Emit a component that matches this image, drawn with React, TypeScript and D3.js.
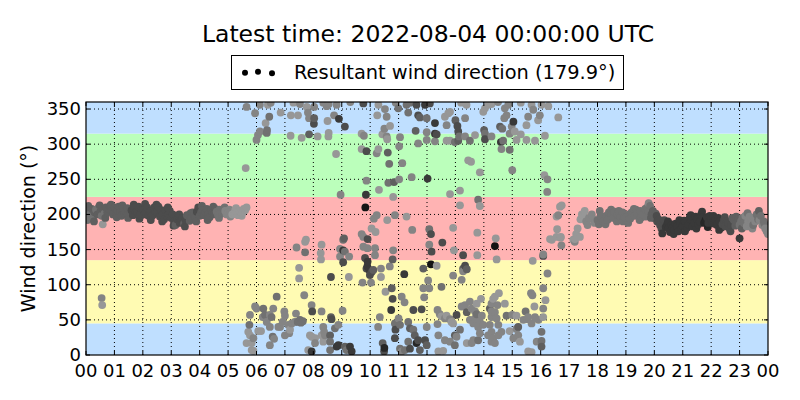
import React from 'react';
import * as d3 from 'd3';

// [hour, direction (deg), shade 0 dark .. 9 light]
const morningBand: [number, number, number][] = [
  [0.0, 197, 4], [0.05, 192, 5], [0.1, 205, 4], [0.15, 200, 5], [0.2, 208, 4], [0.25, 196, 5], [0.3, 203, 4], [0.35, 207, 5],
  [0.4, 200, 4], [0.45, 210, 5], [0.5, 204, 4], [0.55, 198, 5], [0.6, 207, 4], [0.65, 201, 5], [0.7, 210, 4], [0.75, 203, 4],
  [0.8, 208, 4], [0.85, 212, 4], [0.9, 205, 4], [0.95, 200, 4], [1.0, 210, 4], [1.05, 200, 4], [1.1, 206, 4], [1.15, 211, 4],
  [1.2, 203, 4], [1.25, 198, 4], [1.3, 208, 4], [1.35, 201, 4], [1.4, 205, 4], [1.45, 209, 4], [1.5, 200, 4], [1.55, 207, 4],
  [1.6, 206, 3], [1.65, 199, 3], [1.7, 210, 3], [1.75, 203, 3], [1.8, 204, 3], [1.85, 211, 3], [1.9, 200, 3], [1.95, 207, 3],
  [2.0, 207, 3], [2.05, 200, 3], [2.1, 203, 3], [2.15, 210, 3], [2.2, 198, 3], [2.25, 204, 3], [2.3, 205, 3], [2.35, 199, 3],
  [2.4, 210, 3], [2.45, 204, 3], [2.5, 203, 3], [2.55, 211, 3], [2.6, 197, 3], [2.65, 206, 3], [2.7, 200, 3], [2.75, 193, 3],
  [2.8, 206, 3], [2.85, 198, 3], [2.9, 200, 3], [2.95, 205, 3], [3.0, 195, 3], [3.05, 200, 3], [3.1, 190, 3], [3.15, 185, 4],
  [3.2, 193, 3], [3.25, 198, 3], [3.3, 188, 3], [3.35, 194, 3], [3.4, 195, 3], [3.45, 187, 4], [3.5, 192, 3], [3.55, 199, 4],
  [3.6, 198, 4], [3.65, 191, 4], [3.7, 195, 4], [3.75, 203, 4], [3.8, 200, 4], [3.85, 196, 4], [3.9, 204, 3], [3.95, 210, 3],
  [4.0, 198, 4], [4.05, 203, 4], [4.1, 206, 4], [4.15, 199, 4], [4.2, 203, 4], [4.25, 208, 4], [4.3, 200, 4], [4.35, 196, 4],
  [4.4, 206, 4], [4.45, 202, 4], [4.5, 200, 4], [4.55, 208, 4], [4.6, 204, 5], [4.65, 199, 5], [4.7, 207, 5], [4.75, 201, 5],
  [4.8, 202, 5], [4.85, 208, 5], [4.9, 205, 6], [4.95, 200, 6], [5.0, 202, 6], [5.05, 207, 6], [5.1, 204, 6], [5.15, 200, 7],
  [5.2, 201, 7], [5.25, 206, 7], [5.3, 203, 7], [5.35, 199, 7], [5.4, 205, 7], [5.45, 204, 7], [5.5, 202, 7], [5.55, 208, 7],
  [5.6, 206, 7], [5.65, 210, 7],
  [0.08, 212, 4], [0.28, 190, 4], [0.48, 213, 4], [0.68, 195, 4], [0.88, 214, 4], [1.08, 196, 4], [1.28, 213, 4], [1.48, 195, 4],
  [1.68, 214, 3], [1.88, 194, 3], [2.08, 215, 3], [2.28, 192, 3], [2.48, 214, 3], [2.68, 190, 3], [2.88, 210, 3], [3.08, 184, 3],
  [3.28, 200, 3], [3.48, 183, 3], [3.68, 202, 4], [3.88, 190, 4], [4.08, 212, 4], [4.28, 192, 4], [4.48, 211, 4], [4.68, 195, 5],
  [4.88, 210, 5], [5.08, 197, 6], [5.28, 209, 7], [5.48, 198, 7],
];

const eveningBand: [number, number, number][] = [
  [17.2, 165, 7], [17.25, 172, 7], [17.3, 180, 7], [17.4, 193, 7], [17.45, 200, 7], [17.5, 198, 7], [17.55, 205, 7], [17.6, 190, 6],
  [17.65, 185, 6], [17.7, 195, 6], [17.8, 200, 6], [17.85, 193, 6], [17.9, 188, 6], [18.0, 192, 5], [18.05, 186, 5], [18.1, 197, 5],
  [18.2, 190, 5], [18.3, 198, 5], [18.35, 192, 5], [18.4, 203, 5], [18.5, 200, 5], [18.55, 195, 5], [18.6, 204, 5], [18.7, 200, 5],
  [18.75, 205, 5], [18.8, 197, 5], [18.9, 190, 5], [18.95, 196, 5], [19.0, 195, 5], [19.1, 200, 5], [19.15, 194, 5], [19.2, 203, 5],
  [19.3, 198, 5], [19.35, 207, 5], [19.4, 202, 5], [19.5, 205, 5], [19.55, 196, 5], [19.6, 200, 5], [19.7, 197, 5], [19.75, 210, 5],
  [19.8, 205, 5], [19.8, 216, 6], [19.85, 212, 5], [19.9, 200, 4], [19.95, 205, 4], [20.0, 195, 4], [20.05, 201, 4], [20.1, 190, 3],
  [20.15, 193, 3], [20.2, 185, 3], [20.25, 180, 3], [20.3, 188, 3], [20.35, 192, 3], [20.4, 182, 2], [20.45, 186, 2], [20.5, 180, 2],
  [20.55, 175, 2], [20.6, 186, 2], [20.65, 181, 2], [20.7, 178, 2], [20.75, 187, 2], [20.8, 183, 2], [20.85, 176, 2], [20.9, 188, 2],
  [20.95, 180, 2], [21.0, 184, 2], [21.05, 191, 2], [21.1, 190, 2], [21.15, 181, 2], [21.2, 186, 2], [21.25, 196, 2], [21.3, 192, 2],
  [21.35, 183, 2], [21.4, 188, 2], [21.45, 197, 2], [21.5, 193, 2], [21.55, 186, 2], [21.6, 190, 2], [21.65, 200, 2], [21.7, 196, 2],
  [21.75, 188, 1], [21.8, 192, 1], [21.85, 196, 2], [21.9, 188, 2], [21.95, 198, 2], [22.0, 193, 2], [22.05, 188, 2], [22.1, 187, 2],
  [22.15, 193, 2], [22.2, 185, 2], [22.25, 195, 2], [22.3, 190, 2], [22.35, 181, 2], [22.4, 186, 3], [22.45, 192, 3], [22.5, 183, 3],
  [22.55, 190, 3], [22.6, 188, 3], [22.65, 180, 3], [22.7, 185, 3], [22.75, 195, 4], [22.8, 192, 4], [22.85, 184, 4], [22.9, 188, 4],
  [22.95, 193, 4], [23.0, 185, 5], [23.0, 166, 2], [23.05, 190, 5], [23.1, 195, 5], [23.15, 188, 5], [23.2, 198, 6], [23.25, 183, 6],
  [23.3, 190, 6], [23.35, 197, 6], [23.4, 186, 6], [23.45, 180, 6], [23.5, 195, 6], [23.55, 190, 6], [23.6, 200, 5], [23.65, 193, 5],
  [23.7, 192, 6], [23.75, 198, 5], [23.8, 185, 6], [23.85, 190, 5], [23.9, 180, 6], [23.95, 176, 6], [24.0, 172, 6],
  [18.08, 205, 5], [18.28, 186, 5], [18.48, 207, 5], [18.68, 190, 5], [18.88, 203, 5], [19.08, 188, 5], [19.28, 208, 5], [19.48, 192, 5],
  [19.68, 208, 5], [19.88, 195, 4], [20.08, 198, 3], [20.28, 173, 2], [20.48, 190, 2], [20.68, 172, 2], [20.88, 192, 2], [21.08, 176, 2],
  [21.28, 199, 2], [21.48, 180, 2], [21.68, 204, 2], [21.88, 182, 1], [22.08, 198, 2], [22.28, 178, 2], [22.48, 196, 3], [22.68, 176, 3],
  [22.88, 197, 4], [23.08, 180, 4], [23.28, 202, 5], [23.48, 185, 5], [23.68, 205, 4], [23.88, 186, 5],
];

const scatterPoints: [number, number, number][] = [
  [0.59, 186, 7], [0.55, 81, 6], [0.57, 71, 7], [5.62, 266, 7],
  [5.65, 353, 6], [5.95, 344, 6], [6.12, 356, 6], [6.4, 356, 7], [6.45, 339, 5], [6.32, 330, 7], [6.12, 318, 6], [6.05, 313, 6],
  [6.0, 306, 6], [6.36, 316, 5], [6.37, 320, 5], [6.85, 345, 7], [7.21, 341, 7], [7.46, 341, 7], [7.53, 357, 6], [7.77, 353, 7],
  [7.81, 345, 6], [7.85, 337, 6], [7.2, 312, 7], [7.59, 309, 7], [7.85, 314, 4], [8.15, 311, 7], [8.03, 337, 4], [8.02, 329, 3],
  [8.03, 353, 6], [8.47, 354, 6], [8.54, 357, 6], [8.82, 356, 6], [8.5, 333, 7], [8.54, 316, 7], [8.53, 311, 7], [8.73, 341, 6],
  [8.9, 336, 2], [9.11, 325, 3], [8.8, 286, 7], [9.76, 358, 3], [9.7, 315, 7], [9.78, 312, 6], [9.7, 293, 7], [9.87, 290, 3],
  [9.87, 248, 6], [8.96, 228, 6], [9.85, 228, 2], [9.83, 210, 0], [10.31, 235, 7], [10.81, 225, 7], [10.23, 199, 6], [10.13, 194, 6],
  [10.6, 192, 7], [10.87, 199, 6], [10.29, 356, 7], [10.52, 350, 6], [10.58, 339, 6], [10.25, 341, 7], [10.5, 322, 6], [10.7, 326, 7],
  [10.43, 314, 7], [10.58, 311, 6], [10.6, 307, 7], [10.23, 287, 6], [10.29, 293, 7], [10.62, 288, 4], [10.67, 272, 5], [10.64, 245, 5],
  [10.84, 246, 4],
  [10.99, 351, 5], [11.28, 356, 5], [11.34, 345, 5], [11.63, 356, 3], [11.69, 341, 3], [11.75, 338, 4], [11.93, 356, 2], [11.99, 337, 5],
  [12.28, 330, 2], [11.6, 319, 4], [11.99, 317, 6], [12.28, 315, 2], [12.34, 314, 3], [11.05, 310, 6], [11.02, 297, 6], [11.69, 301, 6],
  [11.99, 306, 6], [12.28, 304, 6], [12.63, 339, 7], [12.75, 344, 7], [12.81, 346, 7], [12.69, 327, 6], [13.0, 334, 4], [13.07, 326, 3],
  [13.34, 337, 6], [12.69, 305, 7], [12.81, 305, 7], [12.98, 303, 5], [13.1, 305, 4], [13.1, 318, 3], [13.13, 311, 5], [13.34, 311, 6],
  [13.51, 305, 5], [13.39, 356, 7], [13.98, 346, 7], [14.04, 351, 7], [14.15, 356, 7], [14.27, 357, 7], [14.01, 320, 4], [14.04, 315, 5],
  [14.04, 307, 3], [14.27, 311, 6], [13.69, 313, 7], [14.57, 325, 4], [14.65, 322, 5], [14.72, 337, 6], [14.8, 341, 6], [14.6, 303, 2],
  [14.68, 305, 5], [14.62, 293, 6], [14.91, 292, 5], [14.98, 325, 6], [15.04, 332, 2], [14.91, 315, 6], [15.09, 318, 7], [15.15, 306, 7],
  [15.3, 314, 7], [14.74, 351, 6], [14.86, 356, 6], [15.5, 327, 7], [15.56, 339, 6], [15.68, 356, 7], [15.74, 349, 6], [15.5, 306, 7],
  [15.8, 305, 7], [15.91, 334, 7], [15.97, 341, 6], [16.03, 356, 7], [16.27, 354, 7], [16.15, 312, 7], [16.62, 338, 7], [11.13, 273, 6],
  [11.46, 253, 6], [12.02, 251, 2], [11.02, 250, 6], [13.45, 277, 7], [13.55, 275, 7], [13.86, 260, 7], [15.0, 263, 6], [16.13, 256, 7],
  [16.24, 250, 6], [16.23, 232, 6], [12.81, 229, 7], [13.16, 234, 7], [13.8, 221, 5], [13.86, 212, 7], [13.16, 213, 7], [11.28, 197, 7],
  [16.74, 213, 7], [16.62, 199, 6],
  [7.41, 153, 6], [7.71, 161, 7], [7.74, 164, 7], [7.71, 146, 5], [8.29, 157, 7], [8.26, 145, 7], [8.27, 136, 7], [9.05, 164, 5],
  [9.08, 166, 4], [8.94, 151, 6], [9.05, 149, 2], [9.11, 147, 5], [8.94, 140, 6], [9.05, 132, 3], [9.26, 140, 6], [9.7, 172, 6],
  [9.76, 168, 6], [9.91, 165, 3], [10.05, 180, 7], [10.19, 175, 7], [9.76, 154, 6], [9.9, 152, 6], [10.17, 152, 6], [10.17, 142, 6],
  [9.82, 138, 3], [9.91, 133, 2], [9.9, 126, 2], [9.97, 121, 2], [10.05, 118, 3], [10.11, 121, 4], [9.99, 114, 3], [9.87, 123, 3],
  [10.38, 123, 6], [10.38, 111, 7], [9.73, 103, 6], [10.03, 103, 6], [10.81, 149, 6], [10.79, 136, 4], [10.69, 126, 6], [10.76, 95, 4],
  [10.79, 80, 3], [10.74, 64, 2], [10.54, 90, 7], [10.34, 54, 6], [10.28, 40, 6], [10.44, 17, 4], [10.5, 10, 1], [10.49, 5, 3],
  [10.87, 45, 5], [10.89, 36, 3], [10.87, 24, 3], [7.5, 124, 7], [7.5, 109, 7], [8.62, 111, 3], [9.25, 111, 7], [6.71, 83, 5],
  [7.68, 85, 6], [7.94, 71, 6], [7.96, 62, 3], [8.29, 62, 6], [9.03, 63, 6], [8.62, 54, 4], [8.64, 51, 3], [5.95, 69, 6],
  [6.0, 66, 6], [6.24, 66, 5], [6.3, 57, 5], [6.22, 54, 6], [6.47, 57, 6], [6.59, 66, 6], [6.53, 54, 5], [6.36, 47, 6],
  [5.77, 57, 6], [5.75, 43, 5], [5.71, 33, 7], [5.77, 28, 7], [5.89, 24, 6], [5.83, 17, 7], [5.65, 17, 7], [5.83, 7, 7],
  [5.89, 6, 7], [6.06, 34, 7], [6.16, 34, 7], [6.47, 40, 6], [6.57, 26, 5], [6.62, 23, 6], [6.47, 14, 6], [6.77, 40, 6],
  [6.83, 40, 6], [6.92, 47, 6], [7.0, 56, 6], [6.98, 62, 6], [7.12, 43, 6], [7.18, 36, 7], [7.0, 28, 6], [7.15, 31, 6],
  [7.24, 45, 6], [7.35, 47, 6], [7.45, 47, 5], [7.53, 50, 5], [7.56, 46, 5], [7.39, 59, 6], [7.63, 48, 5], [7.88, 28, 7],
  [7.94, 26, 7], [8.06, 24, 7], [7.82, 7, 7], [7.94, 5, 2], [8.06, 17, 6], [8.35, 40, 6], [8.38, 33, 6], [8.41, 28, 6],
  [8.59, 28, 4], [8.76, 38, 5], [8.88, 43, 6], [8.59, 19, 5], [8.82, 12, 2], [8.88, 14, 2], [8.59, 7, 5], [9.11, 12, 4],
  [9.17, 7, 5], [9.29, 12, 2], [9.35, 5, 2], [8.29, 28, 7], [8.35, 19, 7],
  [11.48, 178, 6], [12.08, 179, 5], [12.14, 172, 3], [12.54, 160, 3], [12.08, 157, 6], [12.16, 147, 3], [12.92, 181, 7], [12.95, 149, 7],
  [13.27, 142, 3], [13.77, 174, 7], [13.77, 142, 7], [14.42, 166, 7], [14.39, 155, 0], [14.45, 136, 7], [15.72, 134, 7], [16.09, 141, 3],
  [16.24, 116, 6], [16.33, 165, 7], [16.7, 167, 7], [16.73, 156, 6], [16.58, 179, 7], [11.2, 115, 2], [11.87, 123, 4], [12.14, 129, 0],
  [12.34, 127, 7], [12.04, 106, 6], [12.08, 95, 6], [11.87, 95, 6], [11.9, 82, 6], [11.11, 83, 6], [11.21, 75, 6], [12.51, 97, 5],
  [12.92, 113, 6], [13.22, 107, 6], [13.27, 123, 4], [13.34, 127, 3], [13.4, 122, 4], [13.27, 119, 6], [11.52, 64, 3], [11.81, 65, 3],
  [12.37, 64, 6], [12.45, 58, 6], [12.51, 55, 7], [12.69, 56, 7], [12.63, 52, 6], [12.81, 51, 6], [12.86, 47, 7], [12.92, 45, 7],
  [13.04, 57, 3], [13.22, 69, 6], [13.34, 71, 6], [13.4, 61, 4], [13.51, 76, 6], [13.57, 66, 6], [13.75, 73, 7], [13.69, 62, 6],
  [13.75, 58, 5], [13.9, 80, 7], [13.93, 56, 6], [13.51, 50, 6], [13.63, 45, 6], [13.69, 52, 6], [13.86, 47, 6], [13.8, 40, 6],
  [13.98, 43, 6], [14.21, 66, 4], [14.33, 80, 7], [14.39, 83, 7], [14.53, 88, 7], [14.27, 73, 6], [14.48, 71, 6], [14.74, 73, 7],
  [14.8, 56, 5], [15.0, 57, 6], [15.15, 56, 7], [14.27, 62, 6], [14.39, 61, 6], [14.27, 54, 6], [14.45, 52, 6], [14.51, 43, 6],
  [14.21, 43, 6], [14.27, 33, 6], [14.15, 28, 6], [14.33, 24, 6], [14.27, 19, 6], [14.39, 17, 6], [14.51, 28, 6], [14.62, 33, 6],
  [14.91, 34, 7], [15.04, 24, 6], [15.15, 37, 6], [15.21, 28, 6], [15.27, 19, 7], [15.21, 40, 4], [15.39, 50, 6], [15.47, 62, 5],
  [15.54, 51, 6], [15.56, 54, 6], [15.66, 88, 6], [15.71, 85, 6], [15.78, 69, 7], [15.68, 45, 6], [15.8, 54, 6], [15.92, 50, 6],
  [16.09, 66, 6], [16.09, 54, 7], [16.09, 95, 6], [16.17, 78, 7], [16.03, 33, 5], [16.03, 20, 5], [16.03, 12, 4], [15.86, 19, 6],
  [15.56, 5, 7], [15.68, 4, 7], [11.0, 52, 6], [11.05, 43, 5], [11.34, 47, 5], [11.4, 38, 4], [11.52, 36, 5], [11.57, 28, 4],
  [11.69, 21, 3], [11.63, 17, 1], [11.34, 19, 5], [11.22, 7, 5], [11.4, 9, 3], [11.75, 7, 4], [11.93, 21, 3], [11.99, 14, 4],
  [11.05, 9, 5], [11.11, 5, 6], [12.4, 28, 6], [12.63, 21, 6], [12.81, 19, 6], [12.98, 14, 5], [12.4, 5, 7], [12.57, 6, 7],
  [13.4, 17, 7], [13.57, 17, 6], [13.63, 21, 6], [13.8, 21, 5], [13.86, 31, 6], [12.37, 44, 6], [12.98, 28, 4], [13.16, 36, 5],
  [13.04, 26, 6], [11.99, 40, 6],
  [16.68, 211, 7], [16.56, 197, 7], [16.71, 168, 7], [16.56, 168, 7], [16.39, 164, 7], [17.15, 164, 7], [17.2, 161, 6], [17.38, 168, 7],
  [16.09, 143, 6], [6.5, 359, 6], [7.3, 359, 7], [8.35, 359, 6], [9.3, 360, 6], [11.4, 359, 5], [12.1, 358, 3], [13.2, 359, 7],
  [14.5, 360, 6], [15.3, 359, 7], [10.9, 359, 6],
];

// direction sectors (deg) and their fills
const sectors: [number, number, string][] = [
  [0, 45, '#bfdfff'],
  [45, 135, '#fffbb3'],
  [135, 225, '#ffb3b3'],
  [225, 315, '#bbffbb'],
  [315, 360, '#bfdfff'],
];

const yTicks = [0, 50, 100, 150, 200, 250, 300, 350];
const hourTicks = d3.range(0, 25);
const titleText = 'Latest time: 2022-08-04 00:00:00 UTC';
const legendText = 'Resultant wind direction (179.9°)';

const W = 800;
const H = 400;
const margin = { top: 102, right: 32, bottom: 45, left: 86 };
const FONT = 'DejaVu Sans, sans-serif';

export default function App() {
  const innerW = W - margin.left - margin.right;
  const innerH = H - margin.top - margin.bottom;
  const x = d3.scaleLinear().domain([0, 24]).range([0, innerW]);
  const y = d3.scaleLinear().domain([0, 360]).range([innerH, 0]);
  const shade = d3.scaleLinear<string>().domain([0, 9]).range(['#141414', '#bcbcbc']);

  const allPoints = [...morningBand, ...scatterPoints, ...eveningBand].sort((a, b) => a[0] - b[0]);

  return (
    <svg width={W} height={H} style={{ position: 'absolute', left: 0, top: 0, background: '#fff' }} fontFamily={FONT}>
      <defs>
        <clipPath id="plotClip">
          <rect x={0} y={0} width={innerW} height={innerH} />
        </clipPath>
      </defs>
      <text x={428} y={42} textAnchor="middle" fontSize={23.5}>{titleText}</text>

      {/* legend */}
      <rect x={231.5} y={55.5} width={392} height={34} fill="#fff" stroke="#000" strokeWidth={1} />
      {[245, 258, 272].map((cx, i) => (
        <circle key={i} cx={cx} cy={[72.7, 71.7, 73.3][i]} r={3} fill="#000" />
      ))}
      <text x={294} y={78.5} fontSize={19.4}>{legendText}</text>

      <g transform={`translate(${margin.left},${margin.top})`}>
        {sectors.map(([a, b, c], i) => (
          <rect key={i} x={0} y={y(b)} width={innerW} height={y(a) - y(b)} fill={c} />
        ))}

        {/* grid */}
        {hourTicks.slice(1, -1).map(h => (
          <line key={'gx' + h} x1={x(h)} x2={x(h)} y1={0} y2={innerH} stroke="#000" strokeWidth={1} strokeDasharray="1,3" />
        ))}
        {yTicks.slice(1).map(v => (
          <line key={'gy' + v} x1={0} x2={innerW} y1={y(v)} y2={y(v)} stroke="#000" strokeWidth={1} strokeDasharray="1,3" />
        ))}

        <g clipPath="url(#plotClip)">
          {allPoints.map((p, i) => (
            <circle key={i} cx={x(p[0])} cy={y(p[1])} r={3.9} fill={shade(p[2])} />
          ))}
        </g>

        {/* ticks, inside on all sides */}
        {hourTicks.map(h => (
          <g key={'tx' + h}>
            <line x1={x(h)} x2={x(h)} y1={innerH} y2={innerH - 4} stroke="#000" />
            <line x1={x(h)} x2={x(h)} y1={0} y2={4} stroke="#000" />
            <text x={x(h)} y={innerH + 22} textAnchor="middle" fontSize={18}>
              {String(h % 24).padStart(2, '0')}
            </text>
          </g>
        ))}
        {yTicks.map(v => (
          <g key={'ty' + v}>
            <line x1={0} x2={4} y1={y(v)} y2={y(v)} stroke="#000" />
            <line x1={innerW} x2={innerW - 4} y1={y(v)} y2={y(v)} stroke="#000" />
            <text x={-5} y={y(v) + 6} textAnchor="end" fontSize={18}>{v}</text>
          </g>
        ))}
        <rect x={0} y={0} width={innerW} height={innerH} fill="none" stroke="#000" strokeWidth={1.2} />

        <text transform={`translate(${-51},${innerH / 2}) rotate(-90)`} textAnchor="middle" fontSize={19}>
          Wind direction (°)
        </text>
      </g>
    </svg>
  );
}
